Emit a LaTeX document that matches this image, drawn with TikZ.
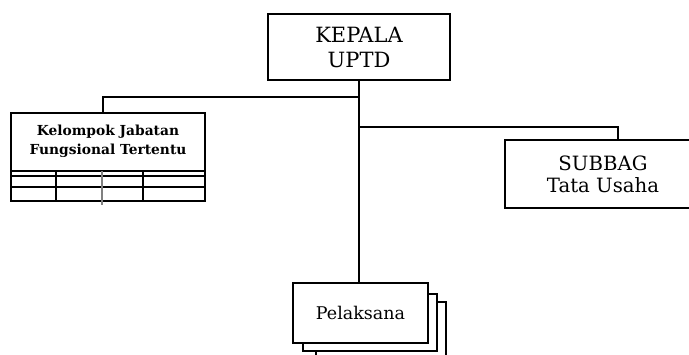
\documentclass[tikz,border=0pt]{standalone}
\usepackage{fontspec}
\setmainfont{DejaVu Serif}
\usetikzlibrary{positioning}

\tikzset{
  unitbox/.style={draw, line width=1.8pt, fill=white, align=center, inner sep=0pt},
  link/.style={line width=1.8pt},
}

\begin{document}
\begin{tikzpicture}[x=1pt,y=-1pt]
  \useasboundingbox (0,0) rectangle (689,355);
  \clip (0,0) rectangle (689,355);

  % kepala
  \node [unitbox, minimum width=182pt, minimum height=66pt,
         font=\fontsize{21}{25}\selectfont] (kepala) at (359,47) {KEPALA\\UPTD};

  % kelompok jabatan fungsional
  \node [unitbox, minimum width=194pt, minimum height=88pt] (kjft) at (108,157) {};
  \node [font=\bfseries\fontsize{13.8}{19}\selectfont, align=center] (kjftlabel) at (108,141) {Kelompok Jabatan\\Fungsional Tertentu};
  \foreach \y in {171,176,187}
    \draw [line width=1.8pt] (11,\y) -- (205,\y);
  \foreach \x in {56,143}
    \draw [line width=1.8pt] (\x,171) -- (\x,201);
  \draw [line width=1.8pt, gray] (102,171) -- (102,205);

  % subbag
  \node [unitbox, minimum width=196pt, minimum height=68pt,
         font=\fontsize{19.7}{22}\selectfont] (subbag) at (603,174) {SUBBAG\\Tata Usaha};

  % pelaksana, tumpuk tiga
  \node [unitbox, minimum width=130pt, minimum height=60pt] (pel3) at (381,332) {};
  \node [unitbox, minimum width=134pt, minimum height=57pt] (pel2) at (370,322.5) {};
  \node [unitbox, minimum width=135pt, minimum height=60pt,
         font=\fontsize{17.5}{20}\selectfont] (pelaksana) at (360.5,313) {Pelaksana};

  % garis
  \draw [link] (kepala.south) -- (kepala.south |- pelaksana.north);
  \draw [link] (kepala.south) ++(0,16) -| ([xshift=-5pt]kjft.north);
  \draw [link] (kepala.south) ++(0,46) -| ([xshift=15pt]subbag.north);
\end{tikzpicture}
\end{document}
